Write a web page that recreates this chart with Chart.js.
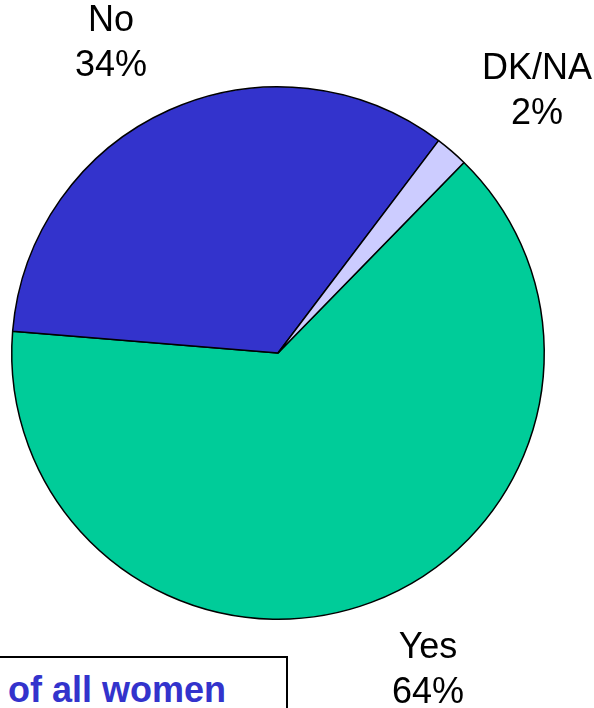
<!doctype html>
<html>
<head>
<meta charset="utf-8">
<script src="https://cdn.jsdelivr.net/npm/chart.js@4.4.1/dist/chart.umd.min.js"></script>
<style>
  html, body { margin: 0; padding: 0; background: #fff; overflow: hidden; }
  #wrap { position: relative; width: 594px; height: 708px; }
  #note {
    position: absolute; left: -10px; top: 656px; width: 298px; height: 80px;
    border: 2px solid #000; box-sizing: border-box; background: #fff;
    font: bold 36px "Liberation Sans", Arial, sans-serif; color: #3333cc;
    padding: 11px 0 0 16px; white-space: nowrap;
  }
</style>
</head>
<body>
<div id="wrap">
  <canvas id="pie" width="594" height="708"></canvas>
  <div id="note">of all women</div>
</div>
<script>
// data
var categories = ['Yes', 'No', 'DK/NA'];
var shares = [64, 34, 2];
var sliceColors = ['#00cc99', '#3333cc', '#ccccff'];

// where each label block sits (centre x, first line centre y)
var labelAt = {
  'Yes':   [428, 648],
  'No':    [111, 21],
  'DK/NA': [537, 69]
};

var outsideLabels = {
  id: 'outsideLabels',
  afterDraw: function (chart) {
    var ctx = chart.ctx;
    ctx.save();
    ctx.fillStyle = '#000';
    ctx.font = '36px "Liberation Sans", Arial, sans-serif';
    ctx.textAlign = 'center';
    ctx.textBaseline = 'middle';
    chart.data.labels.forEach(function (lab, i) {
      var p = labelAt[lab];
      ctx.fillText(lab, p[0], p[1]);
      ctx.fillText(chart.data.datasets[0].data[i] + '%', p[0], p[1] + 45);
    });
    ctx.restore();
  }
};

new Chart(document.getElementById('pie'), {
  type: 'pie',
  data: {
    labels: categories,
    datasets: [{
      data: shares,
      backgroundColor: sliceColors,
      borderColor: '#000',
      borderWidth: 1.5,
      hoverOffset: 0
    }]
  },
  options: {
    responsive: false,
    animation: false,
    rotation: 44.3,
    layout: { padding: { left: 11, right: 49, top: 86, bottom: 88 } },
    plugins: {
      legend: { display: false },
      tooltip: { enabled: false }
    }
  },
  plugins: [outsideLabels]
});
</script>
</body>
</html>
